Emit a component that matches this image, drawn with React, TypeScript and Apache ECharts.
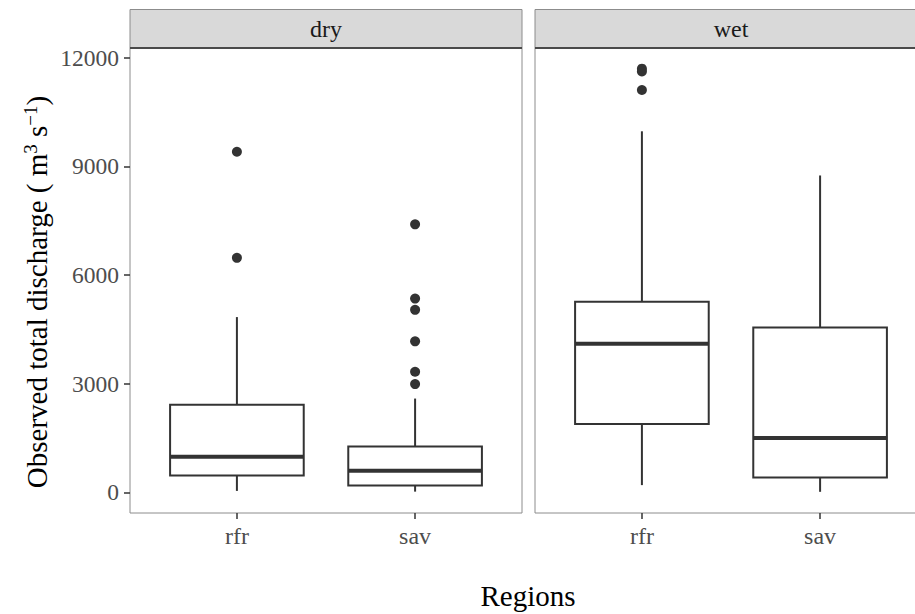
import React, { useEffect, useRef } from "react";
import * as echarts from "echarts";

const regions = ["rfr", "sav"];
const seasons = ["dry", "wet"];
// [min whisker, Q1, median, Q3, max whisker] per region
const dryStats = [
  [40, 465, 980, 2420, 4840],
  [20, 190, 600, 1265, 2590],
];
const wetStats = [
  [200, 1885, 4105, 5260, 9970],
  [15, 410, 1500, 4555, 8750],
];
const dryOutliers = [
  [9405, 6475],
  [7400, 5350, 5040, 4170, 3330, 2990],
];
const wetOutliers = [[11700, 11620, 11110], []];
const yTicks = [0, 3000, 6000, 9000, 12000];

const Y_MIN = -570;
const Y_MAX = 12270;
const FONT = "Liberation Serif";

const boxSeries = (stats: number[][], idx: number) => ({
  type: "custom",
  xAxisIndex: idx,
  yAxisIndex: idx,
  encode: { x: 0, y: [1, 2, 3, 4, 5] },
  data: stats.map((s, i) => [i + 1, ...s]),
  renderItem: (params: any, api: any) => {
    const x = api.value(0);
    const lo = api.value(1);
    const q1 = api.value(2);
    const med = api.value(3);
    const q3 = api.value(4);
    const hi = api.value(5);
    const hw = 0.375;
    const c = (a: number, b: number) => api.coord([a, b]);
    const pLo = c(x, lo);
    const pQ1 = c(x, q1);
    const pQ3 = c(x, q3);
    const pHi = c(x, hi);
    const tl = c(x - hw, q3);
    const br = c(x + hw, q1);
    const mL = c(x - hw, med);
    const mR = c(x + hw, med);
    const st = { stroke: "#333333", lineWidth: 2, fill: null };
    return {
      type: "group",
      children: [
        { type: "line", shape: { x1: pLo[0], y1: pLo[1], x2: pQ1[0], y2: pQ1[1] }, style: st },
        { type: "line", shape: { x1: pQ3[0], y1: pQ3[1], x2: pHi[0], y2: pHi[1] }, style: st },
        {
          type: "rect",
          shape: { x: tl[0], y: tl[1], width: br[0] - tl[0], height: br[1] - tl[1] },
          style: { stroke: "#333333", lineWidth: 2, fill: "#ffffff" },
        },
        {
          type: "line",
          shape: { x1: mL[0], y1: mL[1], x2: mR[0], y2: mR[1] },
          style: { stroke: "#333333", lineWidth: 4 },
        },
      ],
    };
  },
  z: 3,
});

const outlierSeries = (outs: number[][], idx: number) => ({
  type: "scatter",
  xAxisIndex: idx,
  yAxisIndex: idx,
  symbolSize: 10,
  itemStyle: { color: "#333333", opacity: 1 },
  data: outs.flatMap((vals, i) => vals.map((v) => [i + 1, v])),
  z: 4,
});

const panelLeft = [130, 535];
const panelWidth = 392;
const panelTop = 48;
const panelHeight = 465;

export default function App() {
  const ref = useRef<HTMLDivElement>(null);
  useEffect(() => {
    if (!ref.current) return;
    const chart = echarts.init(ref.current, undefined, { renderer: "svg" });
    const xAxis = [0, 1].map((i) => ({
      type: "value",
      gridIndex: i,
      min: 0.4,
      max: 2.6,
      axisLine: { show: false, onZero: false },
      splitLine: { show: false },
      axisTick: {
        show: true,
        customValues: [1, 2],
        length: 6,
        lineStyle: { color: "#333333", width: 1.5 },
      },
      axisLabel: {
        show: true,
        customValues: [1, 2],
        margin: 11,
        fontSize: 24,
        color: "#4d4d4d",
        fontFamily: FONT,
        formatter: (v: number) => regions[Math.round(v) - 1] ?? "",
      },
    }));
    const yAxis = [0, 1].map((i) => ({
      type: "value",
      gridIndex: i,
      min: Y_MIN,
      max: Y_MAX,
      axisLine: { show: false, onZero: false },
      splitLine: { show: false },
      axisTick: {
        show: i === 0,
        customValues: yTicks,
        length: 6,
        lineStyle: { color: "#333333", width: 1.5 },
      },
      axisLabel: {
        show: i === 0,
        customValues: yTicks,
        margin: 11,
        fontSize: 23.5,
        color: "#4d4d4d",
        fontFamily: FONT,
        formatter: (v: number) => String(v),
      },
    }));
    const graphics: any[] = [];
    seasons.forEach((s, i) => {
      graphics.push({
        type: "rect",
        shape: { x: panelLeft[i], y: 9.5, width: panelWidth, height: panelTop - 9.5 },
        style: { fill: "#d9d9d9", stroke: "#8c8c8c", lineWidth: 1 },
        z: 10,
      });
      graphics.push({
        type: "line",
        shape: { x1: panelLeft[i], y1: panelTop, x2: panelLeft[i] + panelWidth, y2: panelTop },
        style: { stroke: "#4a4a4a", lineWidth: 2 },
        z: 11,
      });
      graphics.push({
        type: "text",
        x: panelLeft[i] + panelWidth / 2,
        y: 29,
        style: {
          text: s,
          fontSize: 24,
          fontFamily: FONT,
          fill: "#1a1a1a",
          textAlign: "center",
          textVerticalAlign: "middle",
        },
        z: 12,
      });
    });
    graphics.push({
      type: "text",
      x: 528,
      y: 596,
      style: {
        text: "Regions",
        fontSize: 29,
        fontFamily: FONT,
        fill: "#000000",
        textAlign: "center",
        textVerticalAlign: "middle",
      },
    });
    graphics.push({
      type: "text",
      x: 37,
      y: 292,
      rotation: Math.PI / 2,
      style: {
        text: "Observed total discharge ( m{sup|3} s{sup|−1})",
        fontSize: 29,
        fontFamily: FONT,
        fill: "#000000",
        textAlign: "center",
        textVerticalAlign: "middle",
        rich: {
          sup: {
            fontSize: 19,
            fontFamily: FONT,
            fill: "#000000",
            padding: [0, 0, 14, 0],
          },
        },
      },
    });
    chart.setOption({
      animation: false,
      textStyle: { fontFamily: FONT },
      grid: [0, 1].map((i) => ({
        left: panelLeft[i],
        top: panelTop,
        width: panelWidth,
        height: panelHeight,
        outerBoundsMode: "none",
        containLabel: false,
        show: true,
        borderColor: "#8c8c8c",
        borderWidth: 1,
        backgroundColor: "#ffffff",
      })),
      xAxis,
      yAxis,
      series: [
        boxSeries(dryStats, 0),
        outlierSeries(dryOutliers, 0),
        boxSeries(wetStats, 1),
        outlierSeries(wetOutliers, 1),
      ],
      graphic: graphics,
    });
    return () => chart.dispose();
  }, []);
  return (
    <div
      style={{
        position: "absolute",
        left: 0,
        top: 0,
        width: 915,
        height: 614,
        overflow: "hidden",
        background: "#fff",
      }}
    >
      <div ref={ref} style={{ width: 940, height: 614 }} />
    </div>
  );
}
